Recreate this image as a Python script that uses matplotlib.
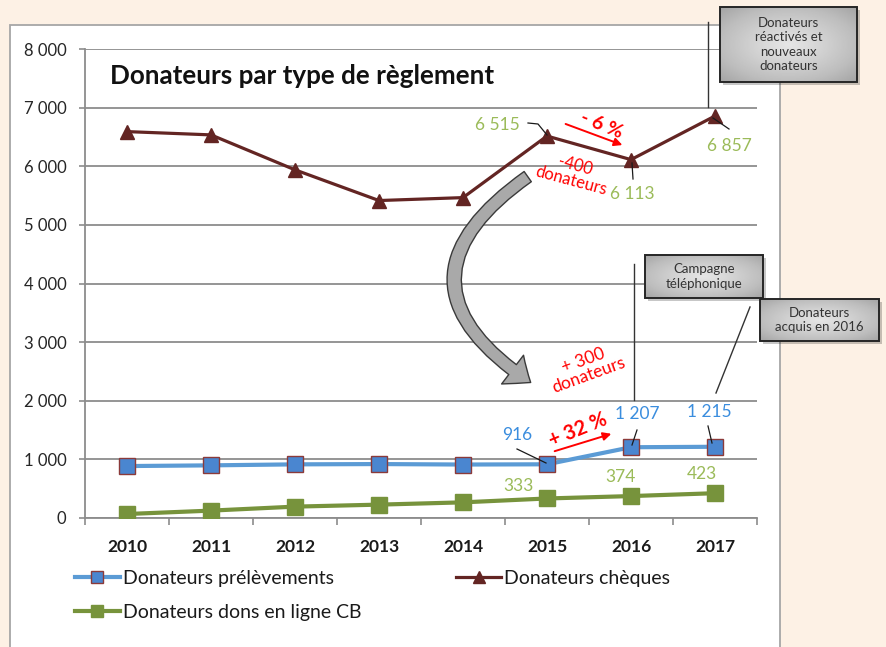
import matplotlib
matplotlib.use('Agg')
import matplotlib.pyplot as plt
import matplotlib.patches as mpatches
import numpy as np

plt.rcParams['font.family'] = ['Lato', 'DejaVu Sans']

# données
years = ['2010', '2011', '2012', '2013', '2014', '2015', '2016', '2017']
prelevements = [886, 898, 915, 920, 912, 916, 1207, 1215]
cheques = [6591, 6535, 5939, 5415, 5465, 6515, 6113, 6857]
dons_cb = [68, 126, 194, 228, 267, 333, 374, 423]
y_ticks = [0, 1000, 2000, 3000, 4000, 5000, 6000, 7000, 8000]

W, H = 886, 647
BG = '#FDF1E5'
GRID = '#8C8C8C'
GREEN_TXT = '#9BBB59'
BLUE_TXT = '#3A8DDE'
RED = '#FF0000'

fig = plt.figure(figsize=(W / 100, H / 100), dpi=100)
fig.patch.set_facecolor(BG)

# panneau blanc
bg = fig.add_axes([0, 0, 1, 1], zorder=0)
bg.set_xlim(0, W)
bg.set_ylim(H, 0)
bg.axis('off')
bg.add_patch(mpatches.Rectangle((10, 25), 770, 640, facecolor='white',
                                edgecolor='#A6A6A6', lw=1.3))

# axes principaux
ax = fig.add_axes([85 / W, 1 - 518 / H, 672 / W, 469 / H], zorder=1)
ax.set_facecolor('none')
x = np.arange(len(years))

ax.plot(x, prelevements, '-s', color='#5B9BD5', lw=3, ms=11.5,
        mfc='#4A86D0', mec='#8B3A3A', mew=1.0, zorder=4, label='Donateurs prélèvements')
ax.plot(x, dons_cb, '-s', color='#77933C', lw=3, ms=11.5,
        mfc='#77933C', mec='#77933C', zorder=4, label='Donateurs dons en ligne CB')
ax.plot(x, cheques, '-^', color='#632523', lw=2.3, ms=10,
        mfc='#632523', mec='#632523', zorder=4, label='Donateurs chèques')

ax.set_xlim(-0.5, 7.5)
ax.set_ylim(0, 8000)
ax.set_yticks(y_ticks)
ax.set_yticklabels([f'{v:,}'.replace(',', ' ') for v in y_ticks], fontsize=12, color='#262626')
ax.set_xticks(x)
ax.set_xticklabels(years, fontsize=12.5, fontweight='bold', color='#1a1a1a')
ax.set_xticks(np.arange(-0.5, 8, 1), minor=True)
ax.tick_params(axis='x', which='major', length=0, pad=15)
ax.tick_params(axis='x', which='minor', length=5, width=1.2, color=GRID, direction='out')
ax.tick_params(axis='y', length=4.5, width=1.2, color=GRID, pad=9)
ax.grid(axis='y', color=GRID, lw=1.3)
ax.set_axisbelow(True)
for s in ['top', 'right']:
    ax.spines[s].set_visible(False)
for s in ['left', 'bottom']:
    ax.spines[s].set_color(GRID)
    ax.spines[s].set_linewidth(1.3)

# calque d'annotations en pixels
ov = fig.add_axes([0, 0, 1, 1], zorder=2)
ov.set_facecolor('none')
ov.axis('off')
ov.set_xlim(0, W)
ov.set_ylim(H, 0)

# flèche courbe grise
arr = mpatches.FancyArrowPatch((530, 175), (533, 384), transform=ov.transData,
                               connectionstyle='arc3,rad=0.74',
                               arrowstyle='simple,tail_width=0.9,head_width=2.6,head_length=1.6',
                               mutation_scale=10, facecolor='#A9A9A9', edgecolor='#3a3a3a',
                               lw=1.0, zorder=2, clip_on=False)
ax.add_patch(arr)

ov.text(110, 76, 'Donateurs par type de règlement', fontsize=18.7, fontweight='bold',
        color='#111111', va='center', ha='left')

# étiquettes de valeurs
def label(xc, yc, txt, color, line=None):
    ov.text(xc, yc, txt, fontsize=12.5, color=color, ha='center', va='center')
    if line:
        xs, ys = zip(*line)
        ov.plot(xs, ys, color='#1a1a1a', lw=0.9)

label(497, 125, '6 515', GREEN_TXT, [(528, 123), (538, 124), (547, 135)])
label(632, 194, '6 113', GREEN_TXT, [(632, 163), (633, 179)])
label(729, 146, '6 857', GREEN_TXT, [(713, 118), (729, 129)])
label(517, 435, '916', BLUE_TXT, [(517, 449), (546, 463)])
label(637, 414, '1 207', BLUE_TXT, [(637, 430), (632, 445)])
label(709, 412, '1 215', BLUE_TXT, [(708, 426), (712, 443)])
label(519, 486, '333', GREEN_TXT)
label(621, 477, '374', GREEN_TXT)
label(702, 474, '423', GREEN_TXT)

# annotations rouges
ov.text(602, 125, '- 6 %', fontsize=14, fontweight='bold', color=RED,
        rotation=-22, ha='center', va='center', rotation_mode='anchor')
ov.annotate('', xy=(625, 146), xytext=(563, 123),
            arrowprops=dict(arrowstyle='-|>', color=RED, lw=1.4, mutation_scale=12))
ov.text(573, 173, '-400\ndonateurs', fontsize=12, color=RED, rotation=-15,
        ha='center', va='center', multialignment='center', linespacing=0.95,
        rotation_mode='anchor')
ov.text(578, 430, '+ 32 %', fontsize=14.5, fontweight='bold', color=RED,
        rotation=22, ha='center', va='center', rotation_mode='anchor')
ov.annotate('', xy=(614, 433), xytext=(552, 452),
            arrowprops=dict(arrowstyle='-|>', color=RED, lw=1.4, mutation_scale=12))
ov.text(586, 368, '+ 300\ndonateurs', fontsize=12.5, color=RED, rotation=20,
        ha='center', va='center', multialignment='center', linespacing=0.95,
        rotation_mode='anchor')

# encadrés gris
gy, gx = np.mgrid[-1:1:60j, -1:1:120j]
grad = np.sqrt(gx ** 2 + gy ** 2) / np.sqrt(2)


def callout(x0, y0, x1, y1, txt):
    ov.add_patch(mpatches.Rectangle((x0 + 3, y0 + 3), x1 - x0, y1 - y0,
                                    facecolor='#000000', alpha=0.22, edgecolor='none', zorder=3))
    rect = mpatches.Rectangle((x0, y0), x1 - x0, y1 - y0, facecolor='none',
                              edgecolor='#262626', lw=1.4, zorder=5)
    ov.add_patch(rect)
    im = ov.imshow(grad, cmap='Greys', vmin=-0.67, vmax=3.0, extent=(x0, x1, y1, y0),
                   aspect='auto', zorder=4, interpolation='bilinear')
    im.set_clip_path(rect)
    ov.text((x0 + x1) / 2, (y0 + y1) / 2, txt, fontsize=9.5, color='#333333',
            ha='center', va='center', multialignment='center', linespacing=1.25, zorder=6)


ov.plot([708, 708], [22, 107], color='#333333', lw=1.0)
ov.plot([634, 634], [264, 400], color='#333333', lw=1.0)
ov.plot([750, 716], [307, 393], color='#333333', lw=1.0)
callout(720, 7, 857, 82, 'Donateurs\nréactivés et\nnouveaux\ndonateurs')
callout(645, 255, 763, 298, 'Campagne\ntéléphonique')
callout(760, 299, 879, 341, 'Donateurs\nacquis en 2016')
ov.set_xlim(0, W)
ov.set_ylim(H, 0)

# légende
handles, labels = ax.get_legend_handles_labels()
leg = fig.legend(handles, labels, ncol=2, loc='upper left',
                 bbox_to_anchor=(75 / W, 1 - 570 / H), frameon=False, fontsize=14,
                 handlelength=2.3, handletextpad=0.15, columnspacing=4.9,
                 labelspacing=0.85, borderpad=0, borderaxespad=0, markerscale=0.8)
for t in leg.get_texts():
    t.set_color('#1a1a1a')

fig.savefig('out.png', dpi=100, facecolor=BG)
